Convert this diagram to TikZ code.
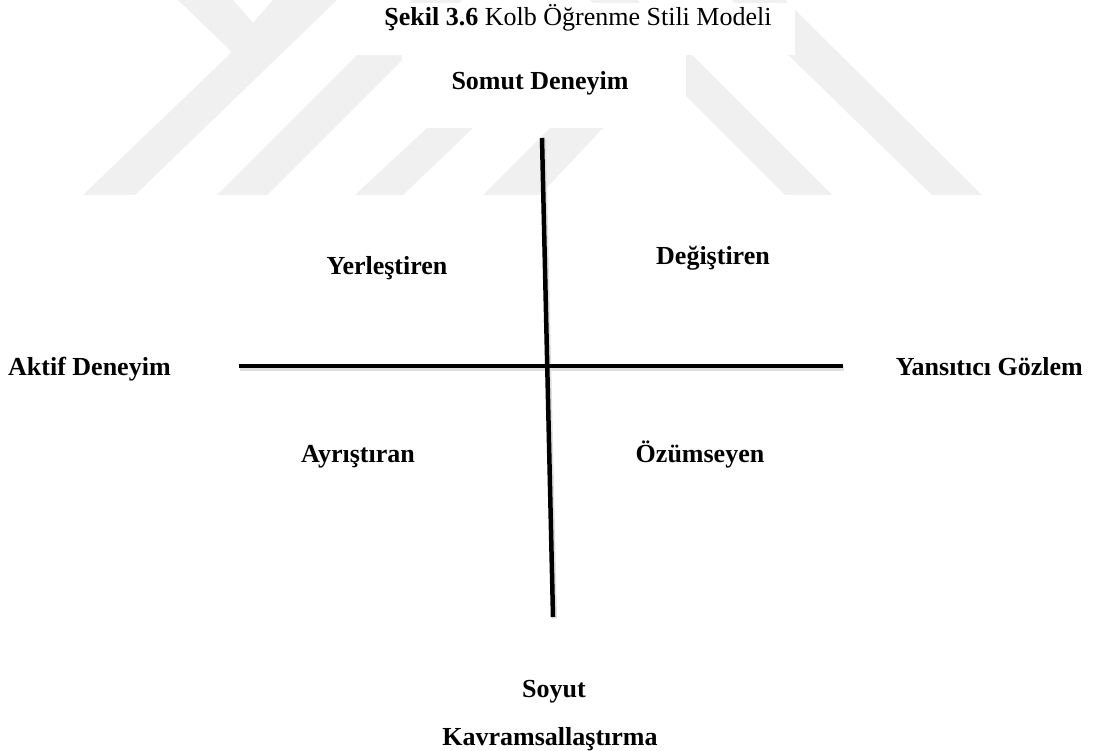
\documentclass[tikz,border=0pt]{standalone}
\usepackage{fontspec}
\setmainfont{Liberation Serif}
\begin{document}
\begin{tikzpicture}[x=1pt,y=-1pt,
  lbl/.style={font=\fontsize{26}{30}\selectfont\bfseries, inner sep=0pt, anchor=base},
  ttl/.style={font=\fontsize{26}{30}\selectfont, inner sep=0pt, anchor=base},
  axisline/.style={line width=4.5pt, line cap=butt},
  axisshadow/.style={line width=5pt, line cap=butt, draw=black!12},
  wm/.style={fill=black!6, draw=none}]
\useasboundingbox (0,0) rectangle (1095,751);
\fill[white] (0,0) rectangle (1095,751);
% watermark
\fill[wm] (178,0) -- (233,0) -- (253,23) -- (273,0) -- (337,0) -- (135,195) -- (83,195) -- (232,52) -- cycle;
\fill[wm] (412,0) -- (462,0) -- (267,195) -- (217,195) -- cycle;
\fill[wm] (427,128) -- (473,128) -- (403,195) -- (355,195) -- cycle;
\fill[wm] (550,128) -- (603,128) -- (540,195) -- (483,195) -- cycle;
\fill[wm] (590,0) -- (637,0) -- (832,195) -- (785,195) -- cycle;
\fill[wm] (732,0) -- (785,0) -- (982,195) -- (932,195) -- cycle;
\fill[white] (340,3) rectangle (795,55);
\fill[white] (402,55) rectangle (686,128);
% texts
\node[ttl] (title) at (578,26) {\textbf{Şekil 3.6} Kolb Öğrenme Stili Modeli};
\node[lbl] (somut) at (540,90) {Somut Deneyim};
\node[lbl] (yer) at (387,275) {Yerleştiren};
\node[lbl] (deg) at (713,265) {Değiştiren};
\node[lbl, anchor=base west] (aktif) at (8,375) {Aktif Deneyim};
\node[lbl, anchor=base east] (yans) at (1083,375) {Yansıtıcı Gözlem};
\node[lbl] (ayr) at (358,462) {Ayrıştıran};
\node[lbl] (ozu) at (700,462) {Özümseyen};
\node[lbl] (soyut) at (554,697) {Soyut};
\node[lbl] (kavram) at (550,745) {Kavramsallaştırma};
% axes
\coordinate (vtop) at (542,138);
\coordinate (vbot) at (553,617);
\coordinate (hleft) at (239,366);
\coordinate (hright) at (843,366);
\draw[axisshadow, transform canvas={shift={(1pt,-2pt)}}] (hleft) -- (hright);
\draw[axisshadow, transform canvas={shift={(1.5pt,-1.5pt)}}] (vtop) -- (vbot);
\draw[axisline] (hleft) -- (hright);
\draw[axisline] (vtop) -- (vbot);
\end{tikzpicture}
\end{document}
